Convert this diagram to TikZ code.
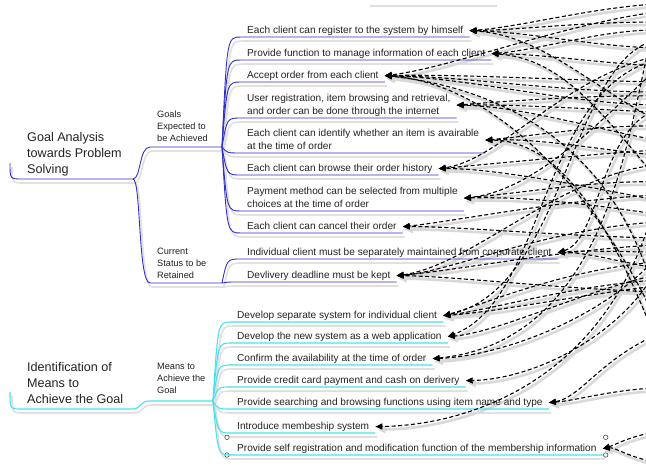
\documentclass[tikz,border=0pt]{standalone}
\usepackage{fontspec}
\setmainfont{Liberation Sans}
\usetikzlibrary{arrows.meta, backgrounds}
\definecolor{goalblue}{RGB}{48,48,200}
\definecolor{meanscyan}{RGB}{72,226,236}
\definecolor{inktext}{RGB}{34,34,34}
\tikzstyle{root-text} = [anchor=south west, align=left, inner sep=0, font=\fontsize{12.6}{16}\selectfont, text=inktext]
\tikzstyle{branch-text} = [anchor=south west, align=left, inner sep=0, font=\fontsize{9.2}{12}\selectfont, text=inktext]
\tikzstyle{leaf} = [anchor=south west, align=left, inner xsep=6pt, inner ysep=1.5pt, text depth=2pt,
 font=\fontsize{10.1}{13}\selectfont, text=inktext]
\tikzstyle{goal-line} = [goalblue, line width=0.9pt]
\tikzstyle{means-line} = [meanscyan, line width=1.1pt]
\tikzstyle{line-shadow} = [black!12, line width=1.6pt, transform canvas={shift={(2pt,-4pt)}}]
\tikzstyle{link} = [black, line width=1.1pt, dash pattern=on 4pt off 2.5pt, -{Triangle[length=7pt,width=6pt]}]
\tikzstyle{link-shadow} = [black!15, line width=2.6pt, -{Triangle[length=8pt,width=7pt]},
 transform canvas={shift={(2pt,-3pt)}}]
\tikzstyle{handle} = [circle, draw=black!70, fill=white, inner sep=0, minimum size=4.5pt, line width=0.6pt]
\newcommand{\ShadowDraw}[2]{%
    \begin{scope}[on background layer]
        \draw[line-shadow] #2;
    \end{scope}
    \draw[#1] #2;
}
\newcommand{\BranchTo}[3]{%
    \ShadowDraw{#1}{(#2) .. controls ([xshift=5pt]#2 |- #3.south west) .. (#3.south west) -- (#3.south east)}
}
\newcommand{\LinkArrow}[4]{%
    \begin{scope}[on background layer]
        \draw[link-shadow] (#1) .. controls #3 and #4 .. (#2.east);
    \end{scope}
    \draw[link] (#1) .. controls #3 and #4 .. (#2.east);
}

\begin{document}
\begin{tikzpicture}[x=1pt, y=-1pt]
\useasboundingbox (0,0) rectangle (646,466);

% Roots and branches
\node (GOAL_ANALYSIS) [root-text] at (27,176) {Goal Analysis\\towards Problem\\Solving};
\node (GOALS_EXPECTED) [branch-text] at (157,141.5) {Goals\\Expected to\\be Achieved};
\node (CURRENT_STATUS) [branch-text] at (157,278.5) {Current\\Status to be\\Retained};
\node (MEANS_ROOT) [root-text] at (27,403.5) {Identification of\\Means to\\Achieve the Goal};
\node (MEANS_TO_ACHIEVE) [branch-text] at (157,393.5) {Means to\\Achieve the\\Goal};

\coordinate (GOAL_FORK) at (133,179);
\coordinate (GOALS_END) at (222,147);
\coordinate (CURRENT_END) at (222,283);
\coordinate (MEANS_FORK) at (133,409);
\coordinate (MEANS_END) at (213,401);

% Goals
\node (GOAL_REGISTER) [leaf] at (241,37) {Each client can register to the system by himself};
\node (GOAL_MANAGE) [leaf] at (241,60) {Provide function to manage information of each client};
\node (GOAL_ACCEPT) [leaf] at (241,82) {Accept order from each client};
\node (GOAL_INTERNET) [leaf] at (241,118) {User registration, item browsing and retrieval,\\and order can be done through the internet};
\node (GOAL_IDENTIFY) [leaf] at (241,153) {Each client can identify whether an item is avairable\\at the time of order};
\node (GOAL_HISTORY) [leaf] at (241,175) {Each client can browse their order history};
\node (GOAL_PAYMENT) [leaf] at (241,211) {Payment method can be selected from multiple\\choices at the time of order};
\node (GOAL_CANCEL) [leaf] at (241,233) {Each client can cancel their order};

% Current status
\node (CURRENT_INDIVIDUAL) [leaf] at (241,259) {Individual client must be separately maintained from corporate client};
\node (CURRENT_DEADLINE) [leaf] at (241,282) {Devlivery deadline must be kept};

% Means
\node (MEANS_SEPARATE) [leaf] at (231,322) {Develop separate system for individual client};
\node (MEANS_WEB) [leaf] at (231,343) {Develop the new system as a web application};
\node (MEANS_CONFIRM) [leaf] at (231,365) {Confirm the availability at the time of order};
\node (MEANS_CREDIT) [leaf] at (231,387) {Provide credit card payment and cash on derivery};
\node (MEANS_SEARCH) [leaf] at (231,409) {Provide searching and browsing functions using item name and type};
\node (MEANS_MEMBER) [leaf] at (231,433) {Introduce membeship system};
\node (MEANS_SELFREG) [leaf] at (231,455) {Provide self registration and modification function of the membership information};

% Selection handles
\node (SEL_NW) [handle] at ([xshift=-4pt,yshift=5pt]MEANS_SELFREG.north west) {};
\node (SEL_SW) [handle] at ([xshift=-4pt]MEANS_SELFREG.south west) {};
\node (SEL_NE) [handle] at ([xshift=3pt,yshift=5pt]MEANS_SELFREG.north east) {};
\node (SEL_SE) [handle] at ([xshift=3pt]MEANS_SELFREG.south east) {};

% Root lines
\ShadowDraw{goal-line}{(10,163) .. controls (10,179) .. (22,179) -- (GOAL_FORK)}
\ShadowDraw{goal-line}{(GOAL_FORK) .. controls (141,179) and (139,147) .. (150,147) -- (GOALS_END)}
\ShadowDraw{goal-line}{(GOAL_FORK) .. controls (141,179) and (138,283) .. (150,283) -- (CURRENT_END)}
\ShadowDraw{means-line}{(10,392) .. controls (10,409) .. (22,409) -- (MEANS_FORK)}
\ShadowDraw{means-line}{(MEANS_FORK) .. controls (141,409) and (139,401) .. (150,401) -- (MEANS_END)}
\draw[black!12, line width=1.6pt] (370,6) -- (497,6);

% Branch lines
\BranchTo{goal-line}{GOALS_END}{GOAL_REGISTER}
\BranchTo{goal-line}{GOALS_END}{GOAL_MANAGE}
\BranchTo{goal-line}{GOALS_END}{GOAL_ACCEPT}
\BranchTo{goal-line}{GOALS_END}{GOAL_INTERNET}
\BranchTo{goal-line}{GOALS_END}{GOAL_IDENTIFY}
\BranchTo{goal-line}{GOALS_END}{GOAL_HISTORY}
\BranchTo{goal-line}{GOALS_END}{GOAL_PAYMENT}
\BranchTo{goal-line}{GOALS_END}{GOAL_CANCEL}
\BranchTo{goal-line}{CURRENT_END}{CURRENT_INDIVIDUAL}
\BranchTo{goal-line}{CURRENT_END}{CURRENT_DEADLINE}
\BranchTo{means-line}{MEANS_END}{MEANS_SEPARATE}
\BranchTo{means-line}{MEANS_END}{MEANS_WEB}
\BranchTo{means-line}{MEANS_END}{MEANS_CONFIRM}
\BranchTo{means-line}{MEANS_END}{MEANS_CREDIT}
\BranchTo{means-line}{MEANS_END}{MEANS_SEARCH}
\BranchTo{means-line}{MEANS_END}{MEANS_MEMBER}
\BranchTo{means-line}{MEANS_END}{MEANS_SELFREG}

% Link ends off the right edge
\foreach \y in {4,12,20,22,30,40,48,56,60,66,70,82,92,96,105,110,112,120,126,140,150,155,165,178,182,195,200,
    214,222,238,245,252,258,262,268,270,275,280,286,292,300,320,335,340,388,432,462}
    \coordinate (R\y) at (656,\y);

% Links to goals
\LinkArrow{R4}{GOAL_REGISTER}{(590,8)}{(520,27)}
\LinkArrow{R22}{GOAL_REGISTER}{(580,22)}{(520,30)}
\LinkArrow{R48}{GOAL_REGISTER}{(590,46)}{(530,32)}
\LinkArrow{R120}{GOAL_REGISTER}{(590,85)}{(540,35)}
\LinkArrow{R30}{GOAL_MANAGE}{(600,30)}{(540,50)}
\LinkArrow{R66}{GOAL_MANAGE}{(590,62)}{(540,54)}
\LinkArrow{R178}{GOAL_MANAGE}{(600,110)}{(560,58)}
\LinkArrow{R12}{GOAL_ACCEPT}{(560,25)}{(450,68)}
\LinkArrow{R82}{GOAL_ACCEPT}{(560,80)}{(460,74)}
\LinkArrow{R92}{GOAL_ACCEPT}{(560,92)}{(460,76)}
\LinkArrow{R105}{GOAL_ACCEPT}{(570,104)}{(470,78)}
\LinkArrow{R320}{GOAL_ACCEPT}{(600,200)}{(500,84)}
\LinkArrow{R300}{GOAL_ACCEPT}{(620,160)}{(520,90)}
\LinkArrow{R96}{GOAL_INTERNET}{(600,95)}{(520,100)}
\LinkArrow{R112}{GOAL_INTERNET}{(600,110)}{(520,104)}
\LinkArrow{R140}{GOAL_INTERNET}{(600,130)}{(520,106)}
\LinkArrow{R126}{GOAL_IDENTIFY}{(600,125)}{(540,135)}
\LinkArrow{R155}{GOAL_IDENTIFY}{(600,150)}{(540,138)}
\LinkArrow{R340}{GOAL_IDENTIFY}{(620,250)}{(570,140)}
\LinkArrow{R150}{GOAL_HISTORY}{(580,155)}{(480,165)}
\LinkArrow{R200}{GOAL_HISTORY}{(580,185)}{(490,168)}
\LinkArrow{R56}{GOAL_HISTORY}{(560,80)}{(500,160)}
\LinkArrow{R182}{GOAL_PAYMENT}{(600,180)}{(530,192)}
\LinkArrow{R214}{GOAL_PAYMENT}{(600,206)}{(530,196)}
\LinkArrow{R70}{GOAL_PAYMENT}{(610,110)}{(540,190)}
\LinkArrow{R195}{GOAL_CANCEL}{(560,200)}{(450,222)}
\LinkArrow{R238}{GOAL_CANCEL}{(560,236)}{(450,226)}

% Links to current status
\LinkArrow{R252}{CURRENT_INDIVIDUAL}{(620,252)}{(585,250)}
\LinkArrow{R268}{CURRENT_INDIVIDUAL}{(620,262)}{(585,252)}
\LinkArrow{R110}{CURRENT_INDIVIDUAL}{(600,130)}{(600,240)}
\LinkArrow{R292}{CURRENT_DEADLINE}{(550,288)}{(450,276)}
\LinkArrow{R222}{CURRENT_DEADLINE}{(540,230)}{(450,272)}
\LinkArrow{R165}{CURRENT_DEADLINE}{(560,175)}{(470,266)}
\LinkArrow{R245}{CURRENT_DEADLINE}{(560,250)}{(460,270)}

% Links to means
\LinkArrow{R262}{MEANS_SEPARATE}{(560,270)}{(480,306)}
\LinkArrow{R280}{MEANS_SEPARATE}{(570,286)}{(490,310)}
\LinkArrow{R286}{MEANS_SEPARATE}{(580,295)}{(495,312)}
\LinkArrow{R40}{MEANS_SEPARATE}{(570,60)}{(565,290)}
\LinkArrow{R275}{MEANS_WEB}{(580,292)}{(500,332)}
\LinkArrow{R60}{MEANS_WEB}{(540,90)}{(545,300)}
\LinkArrow{R258}{MEANS_CONFIRM}{(600,320)}{(500,356)}
\LinkArrow{R20}{MEANS_CONFIRM}{(630,100)}{(620,340)}
\LinkArrow{R270}{MEANS_CREDIT}{(625,330)}{(540,379)}
\LinkArrow{R388}{MEANS_SEARCH}{(610,390)}{(580,400)}
\LinkArrow{R335}{MEANS_SEARCH}{(600,360)}{(580,398)}
\LinkArrow{R200}{MEANS_MEMBER}{(610,380)}{(470,425)}
\LinkArrow{R432}{MEANS_SELFREG}{(630,436)}{(615,445)}
\LinkArrow{R462}{MEANS_SELFREG}{(630,458)}{(615,447)}

\end{tikzpicture}
\end{document}
